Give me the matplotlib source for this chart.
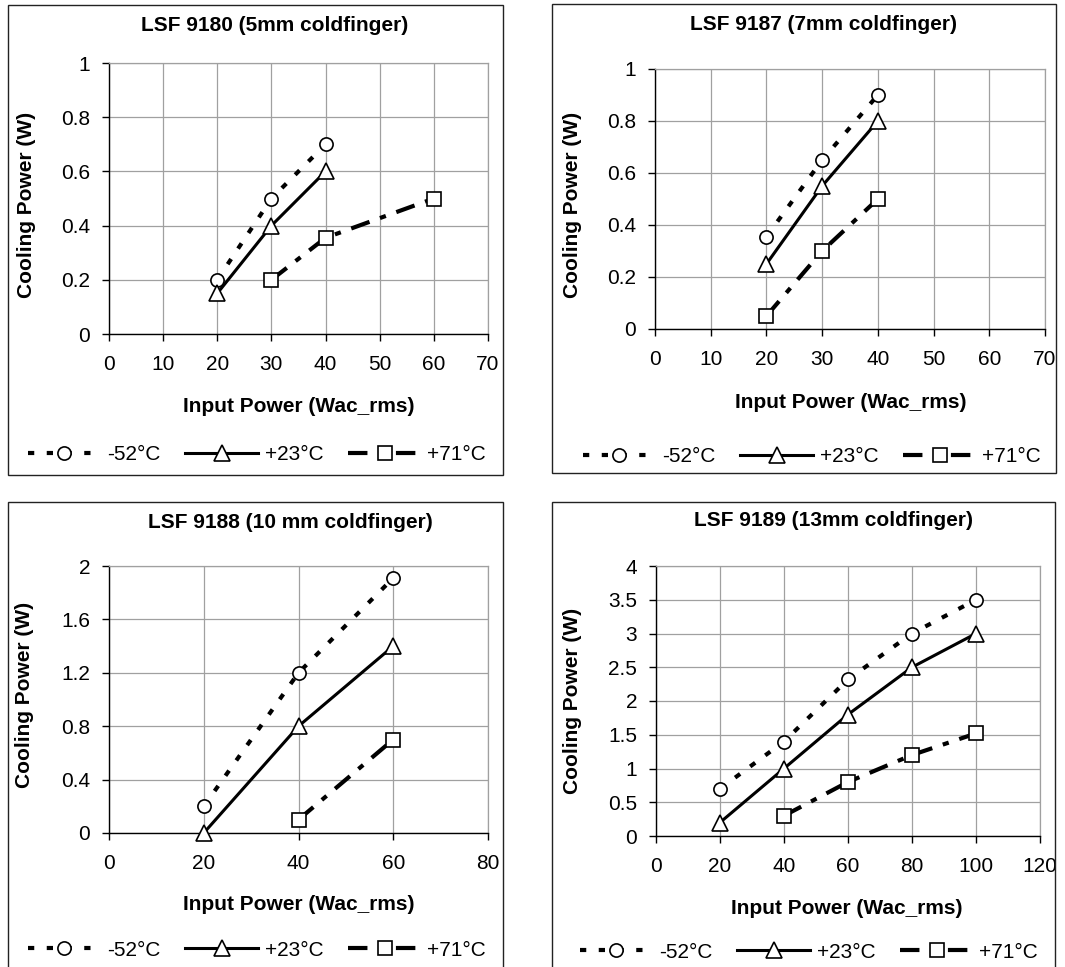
import matplotlib
matplotlib.use('Agg')
import matplotlib.pyplot as plt
from matplotlib.patches import Rectangle
from matplotlib.ticker import FuncFormatter

plt.rcParams['font.family'] = ['Liberation Sans', 'DejaVu Sans']
plt.rcParams['lines.scale_dashes'] = False

W, H = 1065, 967

series_labels = ['-52°C', '+23°C', '+71°C']

# ---- Panel 1: LSF 9180 ----
p1_title = 'LSF 9180 (5mm coldfinger)'
p1_x_m52 = [20, 30, 40]
p1_y_m52 = [0.2, 0.5, 0.7]
p1_x_p23 = [20, 30, 40]
p1_y_p23 = [0.15, 0.4, 0.6]
p1_x_p71 = [30, 40, 60]
p1_y_p71 = [0.2, 0.355, 0.5]
p1_xticks = [0, 10, 20, 30, 40, 50, 60, 70]
p1_yticks = [0, 0.2, 0.4, 0.6, 0.8, 1]

# ---- Panel 2: LSF 9187 ----
p2_title = 'LSF 9187 (7mm coldfinger)'
p2_x_m52 = [20, 30, 40]
p2_y_m52 = [0.355, 0.65, 0.9]
p2_x_p23 = [20, 30, 40]
p2_y_p23 = [0.25, 0.55, 0.8]
p2_x_p71 = [20, 30, 40]
p2_y_p71 = [0.05, 0.3, 0.5]
p2_xticks = [0, 10, 20, 30, 40, 50, 60, 70]
p2_yticks = [0, 0.2, 0.4, 0.6, 0.8, 1]

# ---- Panel 3: LSF 9188 ----
p3_title = 'LSF 9188 (10 mm coldfinger)'
p3_x_m52 = [20, 40, 60]
p3_y_m52 = [0.2, 1.2, 1.91]
p3_x_p23 = [20, 40, 60]
p3_y_p23 = [0.0, 0.8, 1.4]
p3_x_p71 = [40, 60]
p3_y_p71 = [0.1, 0.7]
p3_xticks = [0, 20, 40, 60, 80]
p3_yticks = [0, 0.4, 0.8, 1.2, 1.6, 2]

# ---- Panel 4: LSF 9189 ----
p4_title = 'LSF 9189 (13mm coldfinger)'
p4_x_m52 = [20, 40, 60, 80, 100]
p4_y_m52 = [0.7, 1.4, 2.32, 3.0, 3.5]
p4_x_p23 = [20, 40, 60, 80, 100]
p4_y_p23 = [0.2, 1.0, 1.8, 2.5, 3.0]
p4_x_p71 = [40, 60, 80, 100]
p4_y_p71 = [0.3, 0.8, 1.2, 1.52]
p4_xticks = [0, 20, 40, 60, 80, 100, 120]
p4_yticks = [0, 0.5, 1, 1.5, 2, 2.5, 3, 3.5, 4]

xlabel = 'Input Power (Wac_rms)'
ylabel = 'Cooling Power (W)'

panels = [
    dict(title=p1_title, data=[(p1_x_m52, p1_y_m52), (p1_x_p23, p1_y_p23), (p1_x_p71, p1_y_p71)],
         xticks=p1_xticks, yticks=p1_yticks,
         border=(8, 5, 503, 475), plot=(109, 63, 488, 334),
         title_pos=(275, 25), xlabel_pos=(299, 407), ylabel_pos=(27, 205), legend_pos=(257, 455)),
    dict(title=p2_title, data=[(p2_x_m52, p2_y_m52), (p2_x_p23, p2_y_p23), (p2_x_p71, p2_y_p71)],
         xticks=p2_xticks, yticks=p2_yticks,
         border=(552, 4, 1056, 473), plot=(655, 69, 1045, 329),
         title_pos=(824, 25), xlabel_pos=(851, 402), ylabel_pos=(572, 205), legend_pos=(812, 457)),
    dict(title=p3_title, data=[(p3_x_m52, p3_y_m52), (p3_x_p23, p3_y_p23), (p3_x_p71, p3_y_p71)],
         xticks=p3_xticks, yticks=p3_yticks,
         border=(8, 502, 503, 990), plot=(109, 566, 488, 833),
         title_pos=(290, 522), xlabel_pos=(299, 905), ylabel_pos=(25, 695), legend_pos=(257, 950)),
    dict(title=p4_title, data=[(p4_x_m52, p4_y_m52), (p4_x_p23, p4_y_p23), (p4_x_p71, p4_y_p71)],
         xticks=p4_xticks, yticks=p4_yticks,
         border=(552, 502, 1055, 990), plot=(656, 566, 1040, 836),
         title_pos=(833, 520), xlabel_pos=(847, 908), ylabel_pos=(572, 701), legend_pos=(809, 952)),
]

styles = [
    dict(linestyle=(0, (4.5, 9)), lw=3.0, marker='o', ms=9.5),
    dict(linestyle='-', lw=2.2, marker='^', ms=11),
    dict(linestyle=(0, (14, 8, 4.5, 8)), lw=3.0, marker='s', ms=9.5),
]

fig = plt.figure(figsize=(W / 100, H / 100), dpi=100)

fmt = FuncFormatter(lambda v, p: '%g' % v)

for pn in panels:
    bx0, by0, bx1, by1 = pn['border']
    fig.add_artist(Rectangle((bx0 / W, 1 - by1 / H), (bx1 - bx0) / W, (by1 - by0) / H,
                             transform=fig.transFigure, fill=False, ec='#222222', lw=1.0))
    x0, y0, x1, y1 = pn['plot']
    ax = fig.add_axes([x0 / W, 1 - y1 / H, (x1 - x0) / W, (y1 - y0) / H])

    def to_ax(px, py):
        return (px - x0) / (x1 - x0), (y1 - py) / (y1 - y0)

    for (xs, ys), st, lab in zip(pn['data'], styles, series_labels):
        ax.plot(xs, ys, color='black', linestyle=st['linestyle'], lw=st['lw'],
                marker=st['marker'], ms=st['ms'], mfc='white', mec='black', mew=1.2,
                label=lab, clip_on=False, zorder=3)

    ax.set_xlim(pn['xticks'][0], pn['xticks'][-1])
    ax.set_ylim(pn['yticks'][0], pn['yticks'][-1])
    ax.set_xticks(pn['xticks'])
    ax.set_yticks(pn['yticks'])
    ax.xaxis.set_major_formatter(fmt)
    ax.yaxis.set_major_formatter(fmt)
    ax.grid(True, color='#a0a0a0', lw=0.9)
    ax.set_axisbelow(True)
    for s in ['left', 'bottom']:
        ax.spines[s].set_color('black')
        ax.spines[s].set_linewidth(1.0)
    for s in ['top', 'right']:
        ax.spines[s].set_color('#a0a0a0')
        ax.spines[s].set_linewidth(0.9)
    ax.tick_params(axis='both', direction='out', length=5, width=1, color='black', labelsize=15)
    ax.tick_params(axis='y', pad=8.5)
    ax.tick_params(axis='x', pad=10)

    tx, ty = to_ax(*pn['title_pos'])
    ax.set_title(pn['title'], x=tx, y=ty, fontsize=15, fontweight='bold', pad=0, va='center', ha='center')

    ax.set_xlabel(xlabel, fontsize=15, fontweight='bold')
    ax.xaxis.set_label_coords(*to_ax(*pn['xlabel_pos']))
    ax.xaxis.label.set_va('center')
    ax.set_ylabel(ylabel, fontsize=15, fontweight='bold')
    ax.yaxis.set_label_coords(*to_ax(*pn['ylabel_pos']))
    ax.yaxis.label.set_va('center')
    ax.yaxis.label.set_ha('center')

    lx, ly = pn['legend_pos']
    ax.legend(loc='center', bbox_to_anchor=(lx / W, 1 - ly / H), bbox_transform=fig.transFigure,
              ncol=3, frameon=False, fontsize=15, handlelength=3.5, handletextpad=0.3,
              columnspacing=1.2, borderpad=0, borderaxespad=0)

fig.savefig('out.png', dpi=100)
